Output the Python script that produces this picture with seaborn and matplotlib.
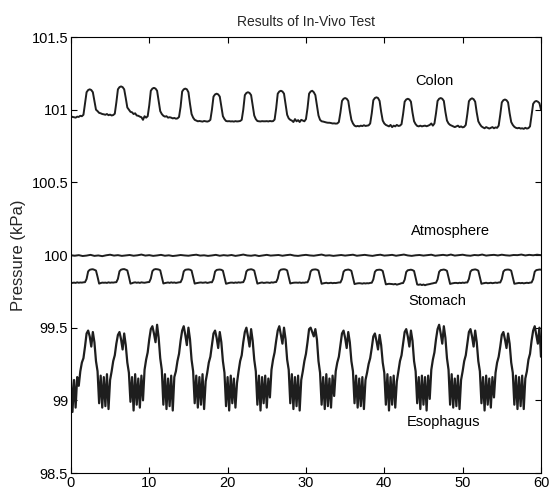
import numpy as np
import pandas as pd
import matplotlib
matplotlib.use("Agg")
import matplotlib.pyplot as plt
import seaborn as sns

# Trazas (muestreo cada 0.2 s, de 0 a 60 s)
paso = 0.2

colon = [
    [100.955, 100.950],
    [100.948, 100.945, 100.952, 100.950, 100.958, 100.955, 100.965, 101.04, 101.12, 101.135,
     101.14, 101.135, 101.12, 101.06, 101.00, 100.99, 100.978, 100.975, 100.970, 100.968],
    [100.965, 100.970, 100.962, 100.966, 100.960, 100.963, 100.972, 101.05, 101.14, 101.155,
     101.16, 101.155, 101.14, 101.08, 101.015, 101.00, 100.985, 100.982, 100.970, 100.975, 100.960],
    [100.958, 100.952, 100.948, 100.930, 100.955, 100.945, 100.955, 101.03, 101.13, 101.145,
     101.15, 101.145, 101.13, 101.06, 100.99, 100.97, 100.958, 100.952, 100.955, 100.945],
    [100.948, 100.945, 100.940, 100.943, 100.938, 100.940, 100.950, 101.02, 101.125, 101.14,
     101.145, 101.14, 101.12, 101.04, 100.97, 100.945, 100.930, 100.925, 100.920, 100.922],
    [100.920, 100.918, 100.922, 100.920, 100.918, 100.921, 100.930, 101.00, 101.09, 101.105,
     101.11, 101.105, 101.09, 101.02, 100.955, 100.935, 100.922, 100.920, 100.921, 100.919],
    [100.920, 100.918, 100.921, 100.919, 100.920, 100.922, 100.930, 101.00, 101.10, 101.115,
     101.12, 101.115, 101.10, 101.03, 100.96, 100.935, 100.922, 100.920, 100.919, 100.921, 100.920],
    [100.920, 100.921, 100.919, 100.922, 100.920, 100.921, 100.932, 101.01, 101.11, 101.125,
     101.13, 101.125, 101.11, 101.04, 100.965, 100.94, 100.930, 100.925, 100.915, 100.935],
    [100.920, 100.928, 100.915, 100.930, 100.925, 100.920, 100.935, 101.01, 101.11, 101.125,
     101.13, 101.12, 101.10, 101.03, 100.96, 100.93, 100.920, 100.918, 100.915, 100.912, 100.910],
    [100.910, 100.908, 100.905, 100.906, 100.904, 100.905, 100.915, 100.98, 101.06, 101.075,
     101.08, 101.075, 101.06, 100.99, 100.93, 100.905, 100.890, 100.885, 100.888, 100.885],
    [100.890, 100.887, 100.893, 100.888, 100.890, 100.892, 100.905, 100.975, 101.065, 101.08,
     101.085, 101.08, 101.06, 100.985, 100.925, 100.905, 100.895, 100.890, 100.885, 100.895],
    [100.880, 100.890, 100.885, 100.895, 100.888, 100.890, 100.900, 100.97, 101.055, 101.07,
     101.075, 101.07, 101.055, 100.98, 100.92, 100.90, 100.888, 100.885, 100.890, 100.885, 100.888],
    [100.890, 100.886, 100.890, 100.895, 100.905, 100.890, 100.905, 100.975, 101.06, 101.075,
     101.08, 101.075, 101.06, 100.985, 100.925, 100.905, 100.895, 100.890, 100.885, 100.880],
    [100.885, 100.890, 100.880, 100.885, 100.878, 100.882, 100.895, 100.97, 101.058, 101.072,
     101.078, 101.072, 101.055, 100.98, 100.92, 100.90, 100.885, 100.878, 100.872, 100.880, 100.875],
    [100.870, 100.875, 100.880, 100.872, 100.878, 100.875, 100.890, 100.965, 101.05, 101.065,
     101.07, 101.065, 101.05, 100.975, 100.915, 100.895, 100.882, 100.875, 100.872, 100.875],
    [100.870, 100.872, 100.868, 100.875, 100.870, 100.873, 100.885, 100.96, 101.04, 101.055,
     101.06, 101.055, 101.045, 101.00],
]

stomach = [
    [99.810, 99.808],
    [99.810, 99.808, 99.812, 99.809, 99.811, 99.810, 99.812, 99.813, 99.835, 99.887,
     99.898, 99.901, 99.902, 99.898, 99.893, 99.850, 99.803, 99.807, 99.810, 99.809],
    [99.810, 99.808, 99.812, 99.809, 99.811, 99.810, 99.812, 99.813, 99.836, 99.888,
     99.899, 99.902, 99.903, 99.899, 99.894, 99.851, 99.803, 99.806, 99.810, 99.812, 99.809],
    [99.811, 99.808, 99.812, 99.810, 99.809, 99.811, 99.813, 99.814, 99.838, 99.889,
     99.900, 99.903, 99.902, 99.900, 99.895, 99.849, 99.804, 99.807, 99.809, 99.811],
    [99.808, 99.812, 99.809, 99.811, 99.808, 99.810, 99.812, 99.813, 99.836, 99.887,
     99.898, 99.900, 99.901, 99.899, 99.893, 99.849, 99.803, 99.806, 99.808, 99.810],
    [99.811, 99.809, 99.810, 99.812, 99.808, 99.810, 99.813, 99.812, 99.835, 99.886,
     99.897, 99.899, 99.900, 99.898, 99.892, 99.848, 99.802, 99.805, 99.808, 99.810],
    [99.810, 99.808, 99.811, 99.809, 99.812, 99.810, 99.812, 99.813, 99.836, 99.887,
     99.898, 99.900, 99.902, 99.899, 99.893, 99.849, 99.803, 99.806, 99.809, 99.811, 99.808],
    [99.809, 99.811, 99.810, 99.808, 99.812, 99.810, 99.813, 99.814, 99.838, 99.888,
     99.899, 99.901, 99.902, 99.900, 99.894, 99.850, 99.804, 99.807, 99.809, 99.810],
    [99.810, 99.809, 99.811, 99.808, 99.810, 99.809, 99.812, 99.812, 99.836, 99.887,
     99.898, 99.900, 99.901, 99.899, 99.893, 99.848, 99.802, 99.805, 99.807, 99.809, 99.806],
    [99.807, 99.809, 99.806, 99.808, 99.807, 99.809, 99.811, 99.811, 99.834, 99.885,
     99.896, 99.898, 99.900, 99.897, 99.891, 99.846, 99.800, 99.803, 99.805, 99.806],
    [99.805, 99.803, 99.806, 99.804, 99.806, 99.805, 99.808, 99.809, 99.832, 99.884,
     99.896, 99.898, 99.899, 99.897, 99.890, 99.845, 99.798, 99.800, 99.802, 99.801],
    [99.800, 99.798, 99.801, 99.796, 99.799, 99.802, 99.806, 99.807, 99.830, 99.883,
     99.895, 99.897, 99.899, 99.896, 99.890, 99.844, 99.797, 99.795, 99.798, 99.793, 99.797],
    [99.792, 99.796, 99.798, 99.800, 99.803, 99.805, 99.808, 99.809, 99.832, 99.884,
     99.896, 99.898, 99.900, 99.897, 99.891, 99.846, 99.801, 99.804, 99.806, 99.808],
    [99.808, 99.806, 99.809, 99.807, 99.810, 99.808, 99.811, 99.811, 99.835, 99.886,
     99.897, 99.899, 99.901, 99.898, 99.892, 99.847, 99.802, 99.805, 99.807, 99.809, 99.806],
    [99.807, 99.809, 99.806, 99.808, 99.810, 99.808, 99.811, 99.811, 99.835, 99.886,
     99.897, 99.899, 99.900, 99.898, 99.892, 99.847, 99.802, 99.804, 99.806, 99.808],
    [99.806, 99.808, 99.805, 99.807, 99.809, 99.807, 99.810, 99.811, 99.834, 99.885,
     99.896, 99.898, 99.900, 99.899],
]

esophagus = [
    [99.16, 98.92],
    [99.14, 98.95, 99.16, 99.10, 99.20, 99.26, 99.29, 99.37, 99.46, 99.48,
     99.44, 99.37, 99.47, 99.40, 99.27, 99.20, 98.98, 99.17, 98.95, 99.16],
    [98.96, 99.18, 98.94, 99.14, 99.20, 99.27, 99.31, 99.39, 99.45, 99.47,
     99.42, 99.35, 99.46, 99.38, 99.26, 99.19, 98.99, 99.16, 98.93, 99.18, 98.97],
    [99.15, 98.95, 99.17, 99.00, 99.21, 99.28, 99.33, 99.42, 99.49, 99.51,
     99.46, 99.40, 99.52, 99.43, 99.29, 99.21, 98.97, 99.18, 98.94, 99.15],
    [98.96, 99.17, 98.93, 99.16, 99.20, 99.27, 99.32, 99.41, 99.48, 99.51,
     99.45, 99.38, 99.50, 99.42, 99.28, 99.20, 98.98, 99.17, 98.95, 99.16],
    [98.97, 99.18, 98.94, 99.13, 99.19, 99.26, 99.30, 99.38, 99.46, 99.48,
     99.43, 99.36, 99.47, 99.40, 99.27, 99.19, 98.96, 99.16, 98.93, 99.17],
    [98.98, 99.15, 98.95, 99.12, 99.20, 99.27, 99.31, 99.40, 99.47, 99.50,
     99.44, 99.37, 99.49, 99.41, 99.28, 99.20, 98.97, 99.17, 98.93, 99.16, 98.98],
    [99.17, 98.95, 99.15, 99.02, 99.21, 99.28, 99.33, 99.41, 99.48, 99.51,
     99.45, 99.39, 99.50, 99.42, 99.28, 99.21, 98.98, 99.18, 98.94, 99.16],
    [98.96, 99.17, 98.93, 99.14, 99.20, 99.27, 99.32, 99.40, 99.49, 99.50,
     99.47, 99.44, 99.49, 99.42, 99.27, 99.19, 98.97, 99.16, 98.94, 99.18, 98.96],
    [99.15, 98.95, 99.17, 99.03, 99.20, 99.26, 99.30, 99.38, 99.46, 99.48,
     99.43, 99.36, 99.47, 99.40, 99.27, 99.20, 98.98, 99.17, 98.95, 99.15],
    [98.96, 99.16, 98.94, 99.14, 99.19, 99.25, 99.29, 99.36, 99.44, 99.46,
     99.41, 99.35, 99.45, 99.38, 99.26, 99.19, 98.97, 99.18, 98.93, 99.16],
    [98.97, 99.17, 98.95, 99.13, 99.20, 99.27, 99.31, 99.39, 99.47, 99.49,
     99.44, 99.37, 99.48, 99.41, 99.27, 99.20, 98.98, 99.16, 98.94, 99.17, 98.97],
    [99.16, 98.93, 99.17, 99.01, 99.21, 99.28, 99.33, 99.42, 99.49, 99.52,
     99.46, 99.39, 99.51, 99.43, 99.29, 99.21, 98.97, 99.18, 98.95, 99.15],
    [98.96, 99.17, 98.94, 99.14, 99.20, 99.27, 99.31, 99.39, 99.47, 99.49,
     99.44, 99.37, 99.48, 99.40, 99.27, 99.20, 98.98, 99.16, 98.93, 99.17, 98.97],
    [99.15, 98.95, 99.16, 99.02, 99.19, 99.26, 99.30, 99.37, 99.45, 99.47,
     99.42, 99.36, 99.46, 99.39, 99.26, 99.19, 98.97, 99.17, 98.94, 99.16],
    [98.96, 99.17, 98.94, 99.15, 99.20, 99.28, 99.32, 99.41, 99.48, 99.51,
     99.45, 99.39, 99.50, 99.30],
]

# Atmosfera: muestreo cada 0.5 s
paso_atm = 0.5
atmosphere = [
    99.998, 99.995, 99.999, 99.993, 99.996, 100.001, 99.994, 99.997, 99.992, 99.998,
    100.002, 99.996, 99.999, 99.994, 99.997, 100.000, 99.995, 99.998, 100.003, 99.996,
    99.999, 99.994, 99.997, 100.001, 99.995, 99.998, 99.993, 99.996, 100.000, 99.997,
    99.995, 99.999, 100.002, 99.996, 99.998, 99.994, 99.997, 100.001, 99.995, 99.999,
    99.996, 100.000, 99.994, 99.998, 100.003, 99.997, 99.995, 99.999, 99.993, 99.997,
    100.001, 99.996, 99.998, 100.000, 99.995, 99.999, 100.002, 99.996, 99.994, 99.998,
    100.001, 99.997, 99.995, 99.999, 100.003, 99.996, 99.998, 99.994, 99.997, 100.000,
    99.996, 99.999, 100.002, 99.995, 99.998, 100.001, 99.997, 99.994, 99.999, 100.002,
    99.996, 99.998, 100.001, 99.995, 99.999, 100.003, 99.997, 99.994, 99.998, 100.000,
    99.996, 99.999, 100.002, 99.995, 99.998, 100.001, 99.997, 100.003, 99.996, 99.999,
    100.002, 99.997, 99.995, 100.000, 99.998, 100.003, 99.996, 99.999, 100.001, 99.997,
    100.002, 99.998, 99.996, 100.000, 99.999, 100.003, 99.997, 100.001, 99.998, 100.002,
    99.999,
]

etiquetas = ["Colon", "Atmosphere", "Stomach", "Esophagus"]
etiqueta_x = [46.4, 48.4, 46.7, 47.6]
etiqueta_y = [101.2, 100.167, 99.685, 98.85]

yticks = [98.5, 99, 99.5, 100, 100.5, 101, 101.5]
ytick_labels = ["98.5", "99", "99.5", "100", "100.5", "101", "101.5"]
xticks = [0, 10, 20, 30, 40, 50, 60]

grosor = {"Colon": 1.4, "Atmosphere": 1.4, "Stomach": 1.4, "Esophagus": 1.6}


def aplanar(bloques):
    return [v for b in bloques for v in b]


def crear_grafico():
    tablas = []
    for nombre, bloques in [("Colon", colon), ("Stomach", stomach), ("Esophagus", esophagus)]:
        valores = aplanar(bloques)
        tablas.append(pd.DataFrame({
            "tiempo": np.round(np.arange(len(valores)) * paso, 2),
            "presion": valores,
            "serie": nombre,
        }))
    tablas.append(pd.DataFrame({
        "tiempo": np.arange(len(atmosphere)) * paso_atm,
        "presion": atmosphere,
        "serie": "Atmosphere",
    }))
    datos = pd.concat(tablas, ignore_index=True)

    sns.set_style("ticks")
    plt.rcParams["font.family"] = ["Liberation Sans", "DejaVu Sans"]

    fig = plt.figure(figsize=(5.54, 4.94), dpi=100)
    ax = fig.add_axes([0.128, 0.0425, 0.8485, 0.8826])

    for serie in ["Colon", "Atmosphere", "Stomach", "Esophagus"]:
        sub = datos[datos["serie"] == serie]
        sns.lineplot(data=sub, x="tiempo", y="presion", ax=ax, color="#1e1e1e",
                     linewidth=grosor[serie], estimator=None, sort=True, legend=False)

    for texto, x, y in zip(etiquetas, etiqueta_x, etiqueta_y):
        ax.text(x, y, texto, ha="center", va="center", fontsize=10.5, color="black")

    ax.set_xlim(0, 60)
    ax.set_ylim(98.5, 101.5)
    ax.set_xticks(xticks)
    ax.set_xticklabels([str(t) for t in xticks])
    ax.set_yticks(yticks)
    ax.set_yticklabels(ytick_labels)
    ax.tick_params(direction="in", length=4, width=0.8, top=True, right=True,
                   labelsize=10.5, colors="black", pad=2)
    for lado in ax.spines.values():
        lado.set_visible(True)
        lado.set_color("black")
        lado.set_linewidth(0.8)

    ax.set_xlabel("")
    ax.set_ylabel("Pressure (kPa)", fontsize=12)
    ax.set_title("Results of In-Vivo Test", fontsize=10, pad=8)

    fig.savefig("out.png", dpi=100)


crear_grafico()
